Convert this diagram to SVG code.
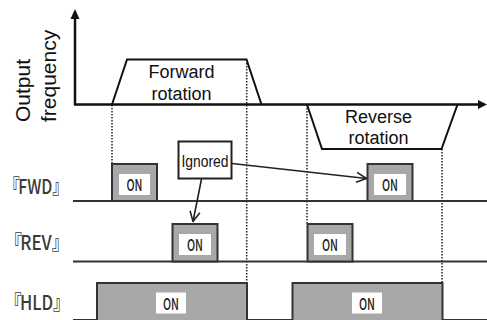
<svg xmlns="http://www.w3.org/2000/svg" width="487" height="320" viewBox="0 0 487 320">
<defs>
<style>
.ax{stroke:#111;stroke-width:2.5;fill:none}
.ln{stroke:#111;stroke-width:2;fill:none}
.base{stroke:#333;stroke-width:2;fill:none}
.dot{stroke:#222;stroke-width:1.5;stroke-dasharray:1.5 1.5;fill:none}
.lbl{font-family:"Liberation Sans",Arial,sans-serif;font-size:18px;fill:#111;text-anchor:middle}
.ylbl{font-family:"Liberation Sans",Arial,sans-serif;font-size:21px;fill:#111}
.sig{font-family:"Noto Sans CJK JP",sans-serif;font-size:20px;font-weight:500;fill:#3a3a3a}
.on{fill:#a8a8a8;stroke:#333;stroke-width:2}
.onin{fill:#fff;stroke:none}
.ont{font-family:"Noto Sans CJK JP","Liberation Sans",sans-serif;font-size:16px;font-weight:500;fill:#222;text-anchor:middle}
.ign{fill:#fff;stroke:#222;stroke-width:2}
.ignt{font-family:"Liberation Sans",Arial,sans-serif;font-size:17px;fill:#111;text-anchor:middle}
.arr{stroke:#222;stroke-width:1.6;fill:none}
</style>
<marker id="open" viewBox="0 0 12 12" refX="11" refY="6" markerWidth="12" markerHeight="12" markerUnits="userSpaceOnUse" orient="auto">
<path d="M1,1 L11,6 L1,11" fill="none" stroke="#222" stroke-width="1.6"/>
</marker>
</defs>

<g id="axes">
<line class="ax" x1="75" y1="18" x2="75" y2="105"/>
<polygon points="75,9 70.5,19 79.5,19" fill="#111"/>
<line class="ax" x1="74" y1="104.5" x2="479" y2="104.5"/>
<polygon points="487,104.5 478,100 478,109" fill="#111"/>
<text class="ylbl" transform="translate(30,122) rotate(-90)">Output</text>
<text class="ylbl" transform="translate(56,122) rotate(-90)">frequency</text>
</g>

<g id="forward">
<polyline class="ln" points="112,104.5 127,59.5 246.5,59.5 261.5,104.5"/>
<text class="lbl" x="181.5" y="78">Forward</text>
<text class="lbl" x="181.5" y="99.5">rotation</text>
</g>

<g id="reverse">
<polyline class="ln" points="307,104.5 322,149 441.5,149 457.5,104.5"/>
<text class="lbl" x="378.5" y="123">Reverse</text>
<text class="lbl" x="378.5" y="144">rotation</text>
</g>

<g id="dotted">
<line class="dot" x1="112" y1="105" x2="112" y2="163"/>
<line class="dot" x1="246.7" y1="60" x2="246.7" y2="283"/>
<line class="dot" x1="307" y1="105" x2="307" y2="223"/>
<line class="dot" x1="442" y1="149" x2="442" y2="283"/>
</g>

<g id="signal-labels">
<text class="sig" transform="translate(4,194) scale(0.79,1)" dx="0 -2">『FWD』</text>
<text class="sig" transform="translate(5,250) scale(0.85,1)" dx="0 -2">『REV』</text>
<text class="sig" transform="translate(5,310) scale(0.83,1)" dx="0 -2">『HLD』</text>
</g>

<g id="fwd-line">
<line class="base" x1="73" y1="201" x2="487" y2="201"/>
</g>
<g id="rev-line">
<line class="base" x1="73" y1="261.5" x2="487" y2="261.5"/>
</g>
<g id="hld-line">
<line class="base" x1="73" y1="320" x2="487" y2="320"/>
</g>

<g id="fwd-on-1">
<rect class="on" x="112" y="164" width="45" height="37"/>
<rect class="onin" x="119" y="174" width="31" height="21"/>
<text class="ont" x="134.5" y="191" textLength="16" lengthAdjust="spacingAndGlyphs">ON</text>
</g>
<g id="fwd-on-2">
<rect class="on" x="367.5" y="164" width="45" height="37"/>
<rect class="onin" x="374" y="174" width="32" height="21"/>
<text class="ont" x="390" y="191" textLength="16" lengthAdjust="spacingAndGlyphs">ON</text>
</g>
<g id="rev-on-1">
<rect class="on" x="172.5" y="224" width="45" height="37.5"/>
<rect class="onin" x="179" y="234" width="32" height="21"/>
<text class="ont" x="195" y="251" textLength="16" lengthAdjust="spacingAndGlyphs">ON</text>
</g>
<g id="rev-on-2">
<rect class="on" x="307.5" y="224" width="45" height="37.5"/>
<rect class="onin" x="314" y="234" width="32" height="21"/>
<text class="ont" x="330" y="251" textLength="16" lengthAdjust="spacingAndGlyphs">ON</text>
</g>
<g id="hld-on-1">
<rect class="on" x="97" y="283" width="150" height="40"/>
<rect class="onin" x="156" y="292.5" width="30" height="21"/>
<text class="ont" x="171" y="309.5" textLength="16" lengthAdjust="spacingAndGlyphs">ON</text>
</g>
<g id="hld-on-2">
<rect class="on" x="292.5" y="283" width="150" height="40"/>
<rect class="onin" x="352" y="292.5" width="30" height="21"/>
<text class="ont" x="367" y="309.5" textLength="16" lengthAdjust="spacingAndGlyphs">ON</text>
</g>

<g id="ignored">
<rect class="ign" x="178.5" y="141.5" width="53" height="37"/>
<text class="ignt" x="205" y="166.5" textLength="47" lengthAdjust="spacingAndGlyphs">Ignored</text>
</g>

<g id="connectors">
<line class="arr" x1="201.5" y1="179" x2="193" y2="221.5" marker-end="url(#open)"/>
<line class="arr" x1="232" y1="163.5" x2="366.5" y2="178.5" marker-end="url(#open)"/>
</g>
</svg>
